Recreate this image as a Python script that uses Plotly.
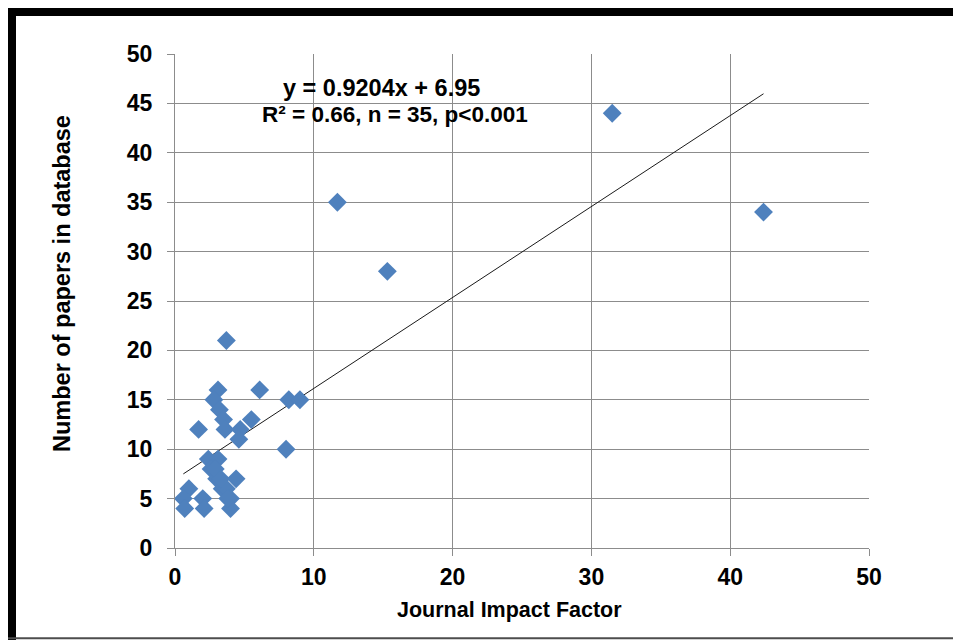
import plotly.graph_objects as go

# Data
impact_factor = [3.7, 3.1, 6.1, 2.8, 8.2, 9.0, 3.2, 3.5, 5.5, 1.7,
                 3.6, 4.7, 4.6, 8.0, 2.4, 3.1, 2.6, 3.0, 4.4, 3.4,
                 1.0, 3.7, 0.6, 2.0, 4.0, 0.7, 2.1, 4.0, 11.7, 15.3,
                 31.5, 42.4, 3.8, 2.9, 3.3]
papers = [21, 16, 16, 15, 15, 15, 14, 13, 13, 12,
          12, 12, 11, 10, 9, 9, 8, 7, 7, 6,
          6, 6, 5, 5, 5, 4, 4, 4, 35, 28,
          44, 34, 5, 8, 7]

slope = 0.9204
intercept = 6.95
eq_line1 = "y = 0.9204x + 6.95"
eq_line2 = "R² = 0.66, n = 35, p<0.001"

x_ticks = [0, 10, 20, 30, 40, 50]
y_ticks = [0, 5, 10, 15, 20, 25, 30, 35, 40, 45, 50]

OFF = 8  # page body margin
W, H = 961 - OFF, 640 - OFF
# plot area in screen pixels
SX0, SX1, SY0, SY1 = 175, 869, 54, 548
L, T = SX0 - OFF, SY0 - OFF
R, B = W - (SX1 - OFF), H - (SY1 - OFF)
PW, PH = SX1 - SX0, SY1 - SY0


def px(xs):
    return (xs - SX0) / PW


def py(ys):
    return (SY1 - ys) / PH


FONT = "Liberation Sans, Arial, sans-serif"
GRID = "#8c8c8c"

fig = go.Figure()

xmin, xmax = min(impact_factor), max(impact_factor)
fig.add_trace(go.Scatter(
    x=[xmin, xmax], y=[slope * xmin + intercept, slope * xmax + intercept],
    mode="lines", line=dict(color="#1a1a1a", width=1), showlegend=False,
    hoverinfo="skip"))

fig.add_trace(go.Scatter(
    x=impact_factor, y=papers, mode="markers",
    marker=dict(symbol="diamond", size=14.5, color="#4F81BD",
                line=dict(width=0)),
    showlegend=False))

axis_common = dict(
    showgrid=True, gridcolor=GRID, gridwidth=1,
    showline=True, linecolor=GRID, linewidth=1,
    ticks="outside", ticklen=7, tickcolor=GRID, tickwidth=1,
    zeroline=False,
    tickfont=dict(family=FONT, size=23, color="black", weight="bold"),
)

fig.update_xaxes(range=[0, 50], tickvals=x_ticks, ticklabelstandoff=1,
                 **axis_common)
fig.update_yaxes(range=[0, 50], tickvals=y_ticks, ticklabelstandoff=10,
                 **axis_common)

annotations = [
    dict(text="<b>Journal Impact Factor</b>", x=px(509), y=py(610),
         xref="paper", yref="paper", showarrow=False,
         font=dict(family=FONT, size=21.5, color="black"),
         xanchor="center", yanchor="middle"),
    dict(text="<b>Number of papers in database</b>", x=px(62), y=py(284),
         xref="paper", yref="paper", showarrow=False, textangle=-90,
         font=dict(family=FONT, size=23.5, color="black"),
         xanchor="center", yanchor="middle"),
    dict(text="<b>" + eq_line1 + "</b>", x=px(381), y=py(88),
         xref="paper", yref="paper", showarrow=False,
         font=dict(family=FONT, size=23.5, color="black"),
         xanchor="center", yanchor="middle"),
    dict(text="<b>" + eq_line2 + "</b>", x=px(395), y=py(114),
         xref="paper", yref="paper", showarrow=False,
         font=dict(family=FONT, size=22.5, color="black"),
         xanchor="center", yanchor="middle"),
]

shapes = [
    dict(type="rect", xref="paper", yref="paper",
         x0=px(8), x1=px(16), y0=py(660), y1=py(8),
         fillcolor="black", line=dict(width=0), layer="above"),
    dict(type="rect", xref="paper", yref="paper",
         x0=px(8), x1=px(980), y0=py(16), y1=py(8),
         fillcolor="black", line=dict(width=0), layer="above"),
    dict(type="line", xref="paper", yref="paper",
         x0=px(8), x1=px(980), y0=py(638.3), y1=py(638.3),
         line=dict(color="#4d4d4d", width=2), layer="above"),
]

fig.update_layout(
    width=W, height=H,
    margin=dict(l=L, r=R, t=T, b=B, pad=0),
    paper_bgcolor="white", plot_bgcolor="white",
    annotations=annotations, shapes=shapes,
    font=dict(family=FONT),
)

fig.write_html("out.html")
